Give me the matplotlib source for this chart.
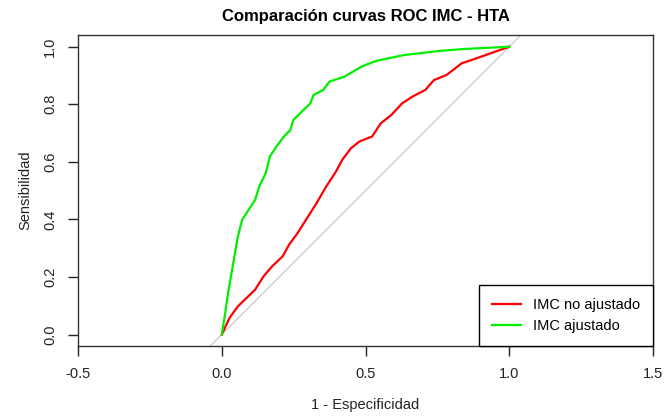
import matplotlib
matplotlib.use('Agg')
import matplotlib.pyplot as plt

# ROC curves (x = 1 - especificidad, y = sensibilidad)
fpr_no_ajust = [0.0, 0.027, 0.056, 0.086, 0.116, 0.145, 0.175, 0.212, 0.234, 0.264,
                0.293, 0.330, 0.360, 0.397, 0.419, 0.449, 0.479, 0.523, 0.553, 0.590,
                0.627, 0.664, 0.708, 0.738, 0.782, 0.834, 0.901, 1.0]
tpr_no_ajust = [0.0, 0.058, 0.098, 0.127, 0.156, 0.202, 0.237, 0.272, 0.312, 0.353,
                0.399, 0.457, 0.509, 0.566, 0.607, 0.647, 0.671, 0.688, 0.734, 0.763,
                0.803, 0.827, 0.850, 0.884, 0.902, 0.942, 0.965, 1.0]

fpr_ajust = [0.0, 0.012, 0.022, 0.034, 0.046, 0.056, 0.071, 0.086, 0.116, 0.130,
             0.153, 0.167, 0.190, 0.216, 0.239, 0.249, 0.279, 0.308, 0.319, 0.353,
             0.375, 0.427, 0.486, 0.538, 0.634, 0.753, 0.841, 1.0]
tpr_ajust = [0.0, 0.075, 0.145, 0.214, 0.283, 0.341, 0.399, 0.422, 0.468, 0.514,
             0.561, 0.618, 0.653, 0.688, 0.711, 0.746, 0.775, 0.803, 0.832, 0.850,
             0.879, 0.896, 0.931, 0.951, 0.971, 0.985, 0.992, 1.0]

x_ticks = [-0.5, 0.0, 0.5, 1.0, 1.5]
y_ticks = [0.0, 0.2, 0.4, 0.6, 0.8, 1.0]

plt.rcParams['font.family'] = ['Liberation Sans', 'DejaVu Sans']

fig = plt.figure(figsize=(6.67, 4.19), dpi=100)
ax = fig.add_axes([0.117, 0.174, 0.862, 0.742])

# diagonal de referencia
ax.plot([-0.1, 1.1], [-0.1, 1.1], color='#c8c8c8', lw=0.9)
ax.plot(fpr_no_ajust, tpr_no_ajust, color='#ff0000', lw=1.6, label='IMC no ajustado')
ax.plot(fpr_ajust, tpr_ajust, color='#00ee00', lw=1.6, label='IMC ajustado')

ax.set_xlim(-0.5, 1.5)
ax.set_ylim(-0.04, 1.04)
ax.set_xticks(x_ticks)
ax.set_xticklabels(['-0.5', '0.0', '0.5', '1.0', '1.5'])
ax.set_yticks(y_ticks)
ax.set_yticklabels(['0.0', '0.2', '0.4', '0.6', '0.8', '1.0'], rotation=90, va='center')
ax.tick_params(direction='out', length=7, width=1, labelsize=10.5, colors='#222222', pad=8)

for s in ax.spines.values():
    s.set_color('#333333')
    s.set_linewidth(1)

ax.set_title('Comparación curvas ROC IMC - HTA', fontsize=12, fontweight='bold', pad=10)
ax.set_xlabel('1 - Especificidad', fontsize=10.5, color='#222222', labelpad=12)
ax.set_ylabel('Sensibilidad', fontsize=10.5, color='#222222', labelpad=8)

leg = ax.legend(loc='lower right', bbox_to_anchor=(1.0, 0.0), borderaxespad=0,
                fancybox=False, edgecolor='black', framealpha=1, fontsize=10.5,
                handlelength=2.0, borderpad=0.9, labelspacing=0.5, handletextpad=0.8)
leg.get_frame().set_linewidth(1)

plt.savefig('out.png', dpi=100)
